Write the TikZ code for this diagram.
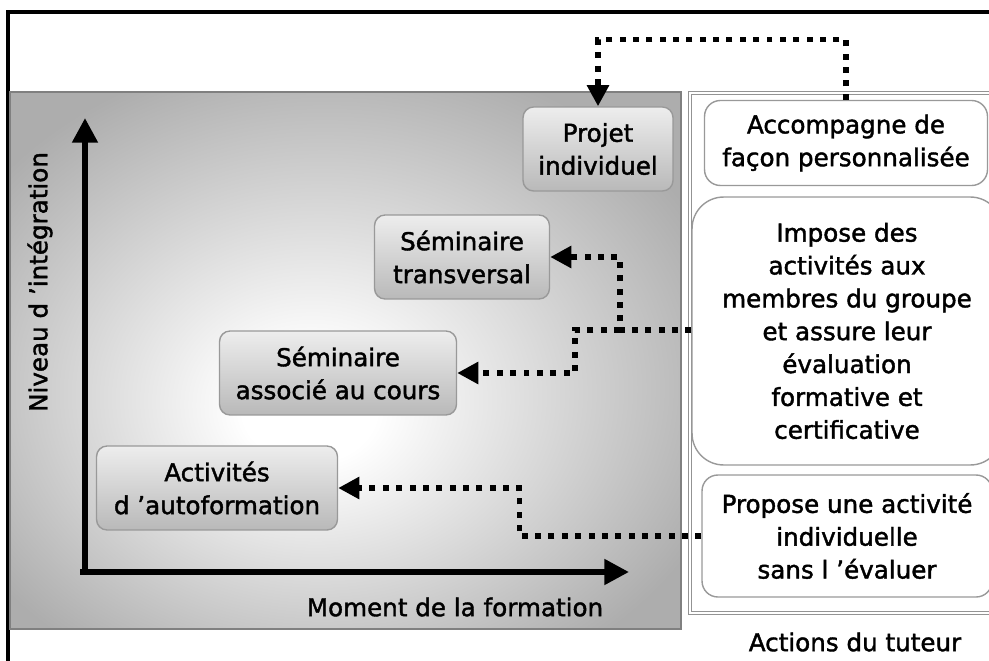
\documentclass[tikz,border=0pt]{standalone}
\usepackage{fontspec}
\setmainfont{DejaVu Sans}
\newfontfamily\diagramfont{DejaVu Sans}[Ligatures=TeX,FakeBold=1.6]
\usepackage{xcolor}
\colorlet{PANELCOLOR}{gray!64}
\colorlet{STEPCOLOR}{gray!55}
\colorlet{STEPTOPCOLOR}{gray!14}
\colorlet{EDGECOLOR}{gray!80}
\usepackage{tikz}
\usetikzlibrary{arrows.meta,positioning,calc}
\pgfdeclareradialshading{panel-glow}{\pgfpoint{-3bp}{-5bp}}{%
  color(0bp)=(white); color(5bp)=(white); color(31bp)=(PANELCOLOR); color(50bp)=(PANELCOLOR)}
\tikzset{
  text-style/.style = {
    font=\diagramfont\fontsize{14}{18.7}\selectfont, align=center, inner sep=1pt
  },
  step-style/.style = {
    text-style, rectangle, rounded corners=6pt, draw=EDGECOLOR, line width=0.8pt,
    top color=STEPTOPCOLOR, bottom color=STEPCOLOR,
    minimum height=1.68cm, minimum width=#1
  },
  action-style/.style = {
    text-style, rectangle, rounded corners=#1, draw=EDGECOLOR, line width=0.8pt,
    fill=white
  },
  action-style/.default = 9pt,
  frame-style/.style = {draw=black, line width=1.8pt},
  panel-style/.style = {shading=panel-glow, draw=gray, line width=0.8pt},
  tutor-panel-style/.style = {draw=gray!85, line width=0.7pt, double=white, double distance=1.4pt},
  axis-style/.style = {draw, line width=3.3pt, -{Triangle[length=14pt,width=14pt]}},
  link-style/.style = {draw, line width=3pt, dash pattern=on 3.4pt off 4.2pt,
    -{Triangle[length=12pt,width=12pt]}}
}

\begin{document}
\begin{tikzpicture}[x=0.02cm,y=0.02cm]
    \useasboundingbox (0,0) rectangle (989,660);
    \clip (0,0) rectangle (989,660);

    %%% frame and panels
    \path[frame-style] (8,-10) -- (8,648) -- (1010,648);
    \path[panel-style] (10,31) rectangle (681,568);
    \path[tutor-panel-style] (690,47) rectangle (1010,567);

    %%% axes
    \coordinate (origin) at (80,88);
    \coordinate (xEnd) at (629,88);
    \coordinate (yEnd) at (85,542);
    \path[axis-style] (origin) -- (xEnd);
    \path[axis-style] (origin -| yEnd) ++(0,-2) -- (yEnd);
    \node[text-style,rotate=90] (yLabel) at (40,378) {Niveau d ’intégration};
    \node[text-style] (xLabel) at (455,53) {Moment de la formation};

    %%% formation steps
    \node[step-style=3cm] (projet) at (598,511) {Projet\\individuel};
    \node[step-style=3.5cm] (semTrans) at (462,403) {Séminaire\\transversal};
    \node[step-style=4.74cm] (semAssoc) at (338,287) {Séminaire\\associé au cours};
    \node[step-style=4.82cm] (autoForm) at (217,172) {Activités\\d ’autoformation};

    %%% tutor actions
    \node[action-style,minimum width=5.66cm,minimum height=1.7cm] (accomp) at (846,517)
      {Accompagne de\\façon personnalisée};
    \node[action-style=18pt,minimum width=6.2cm,minimum height=5.36cm] (impose) at (847,329)
      {Impose des\\activités aux\\membres du groupe\\et assure leur\\évaluation\\formative et\\certificative};
    \node[action-style,minimum width=5.8cm,minimum height=2.44cm] (propose) at (847,124)
      {Propose une activité\\individuelle\\sans l ’évaluer};
    \node[text-style] (tutorLabel) at (855,18) {Actions du tuteur};

    %%% arrows
    \coordinate (fork) at (620,330);
    \path[link-style] (accomp.north) -- ++(0,60) -| (projet.north);
    \path[link-style] (impose.west |- fork) -- (fork) |- (semTrans.east);
    \path[link-style] (fork) -- ++(-45,0) |- (semAssoc.east);
    \path[link-style] (propose.west) -- ++(-182,0) |- (autoForm.east);
\end{tikzpicture}
\end{document}
